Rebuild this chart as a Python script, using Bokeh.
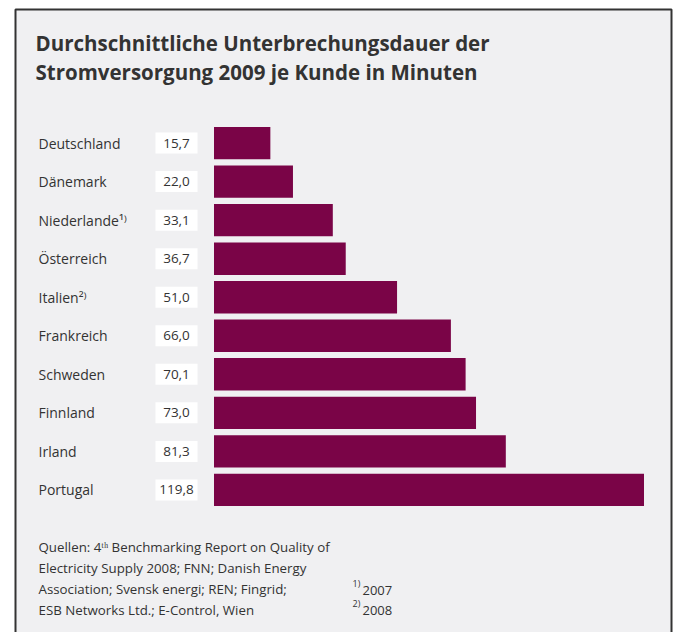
from bokeh.plotting import figure
from bokeh.models import Range1d, FactorRange
from bokeh.core.properties import value
from bokeh.embed import file_html
from bokeh.resources import INLINE

# ---- data ----
countries = ["Deutschland", "Dänemark", "Niederlande", "Österreich", "Italien",
             "Frankreich", "Schweden", "Finnland", "Irland", "Portugal"]
minutes = [15.7, 22.0, 33.1, 36.7, 51.0, 66.0, 70.1, 73.0, 81.3, 119.8]
notes = ["", "", "¹⁾", "", "²⁾", "", "", "", "", ""]

title_lines = ["Durchschnittliche Unterbrechungsdauer der",
               "Stromversorgung 2009 je Kunde in Minuten"]
source_lines = ["Quellen: 4ᵗʰ Benchmarking Report on Quality of",
                "Electricity Supply 2008; FNN; Danish Energy",
                "Association; Svensk energi; REN; Fingrid;",
                "ESB Networks Ltd.; E-Control, Wien"]
footnote_marks = ["1)", "2)"]
footnote_years = ["2007", "2008"]

W, H = 673, 632
FONT = "Open Sans"
TXT = "#333333"
BAR = "#7a0447"
BG = "#f0f0f2"

bar_left_px = 213.5
bar_right_px = 643.5
scale = (bar_right_px - bar_left_px) / max(minutes)

n = len(countries)
pad = 0.64                     # fraction of the factor span, split on both sides
y_top = n + n * pad / 2        # synthetic coordinate at the top of the canvas
y_bot = -n * pad / 2


def sy(px_from_top):
    """layout helper: canvas pixel (from top) -> synthetic categorical coordinate"""
    return y_top - px_from_top * (y_top - y_bot) / H


p = figure(width=W, height=H, output_backend="svg", toolbar_location=None,
           x_range=Range1d(-bar_left_px / scale, (W - bar_left_px) / scale),
           y_range=FactorRange(factors=countries[::-1], range_padding=pad),
           x_axis_location=None, y_axis_location=None,
           min_border=0, min_border_left=0, min_border_right=0,
           min_border_top=0, min_border_bottom=0)
p.extra_x_ranges = {"px": Range1d(0, W)}
p.xgrid.visible = False
p.ygrid.visible = False
p.outline_line_color = None
p.background_fill_color = "white"
p.border_fill_color = "white"

# framed panel
p.quad(left=[15], right=[671], top=[sy(9)], bottom=[sy(660)], fill_color=BG,
       line_color="#333333", line_width=2, x_range_name="px")

# bars
p.hbar(y=countries, left=0, right=minutes, height=0.84, fill_color=BAR,
       line_color=None)

# value boxes
p.rect(x=176, y=countries, width=42, height=21, height_units="screen",
       fill_color="white", line_color=None, x_range_name="px")
p.text(x=176, y=countries,
       text=[f"{v:.1f}".replace(".", ",") for v in minutes],
       text_align="center", text_baseline="middle", text_font=value(FONT),
       text_font_size="13.5px", text_color=TXT, x_range_name="px")

# country labels
p.text(x=38, y=countries, text=[c + m for c, m in zip(countries, notes)],
       text_align="left", text_baseline="middle", text_font=value(FONT),
       text_font_size="14px", text_color=TXT, x_range_name="px")

# title
p.text(x=[35, 35], y=[sy(42), sy(72)], text=title_lines, text_align="left",
       text_baseline="middle", text_font=value(FONT), text_font_style="bold",
       text_font_size="20.5px", text_color=TXT, x_range_name="px")

# sources
p.text(x=[38] * 4, y=[sy(v) for v in (546, 567, 588, 609)], text=source_lines,
       text_align="left", text_baseline="middle", text_font=value(FONT),
       text_font_size="13.3px", text_color=TXT, x_range_name="px")

# footnotes
p.text(x=[352, 352], y=[sy(583), sy(603)], text=footnote_marks,
       text_align="left", text_baseline="middle", text_font=value(FONT),
       text_font_size="9px", text_color=TXT, x_range_name="px")
p.text(x=[362, 362], y=[sy(590), sy(610)], text=footnote_years,
       text_align="left", text_baseline="middle", text_font=value(FONT),
       text_font_size="13px", text_color=TXT, x_range_name="px")

open("out.html", "w").write(file_html(p, INLINE))
